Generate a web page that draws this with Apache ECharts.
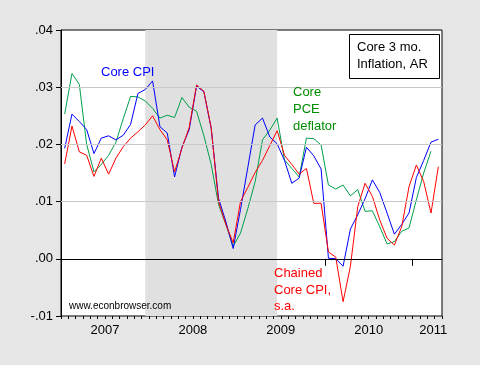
<!DOCTYPE html>
<html>
<head>
<meta charset="utf-8">
<script src="https://cdn.jsdelivr.net/npm/echarts@6/dist/echarts.min.js"></script>
<style>
html,body{margin:0;padding:0;background:#e6e6e6;}
#chart{width:480px;height:365px;}
</style>
</head>
<body>
<div id="chart"></div>
<script>
// Monthly data, Jan 2007 .. Apr 2011 (index 0 = 2007-01)
var startYear = 2007;
var yearLabels = ['2007', '2008', '2009', '2010', '2011'];
var yTicks = [-0.01, 0.00, 0.01, 0.02, 0.03, 0.04];
var recession = [11.5, 29.5]; // Dec 2007 .. Jun 2009 (month index centres)

var coreCPI = [
  0.0193, 0.0253, 0.0240, 0.0226, 0.0184, 0.0211, 0.0215, 0.0208, 0.0216, 0.0235, 0.0289, 0.0296,
  0.0311, 0.0231, 0.0220, 0.0143, 0.0195, 0.0226, 0.0302, 0.0292, 0.0228, 0.0106, 0.0065, 0.0018,
  0.0086, 0.0160, 0.0234, 0.0246, 0.0213, 0.0201, 0.0172, 0.0132, 0.0141, 0.0195, 0.0180, 0.0157,
  0.0001, 0.0000, -0.0013, 0.0052, 0.0077, 0.0105, 0.0138, 0.0116, 0.0080, 0.0043, 0.0060, 0.0080,
  0.0142, 0.0172, 0.0204, 0.0209
];
var chainedCoreCPI = [
  0.0166, 0.0232, 0.0187, 0.0181, 0.0144, 0.0176, 0.0148, 0.0176, 0.0196, 0.0211, 0.0222, 0.0234,
  0.0250, 0.0226, 0.0208, 0.0152, 0.0193, 0.0230, 0.0304, 0.0293, 0.0229, 0.0100, 0.0060, 0.0028,
  0.0100, 0.0125, 0.0151, 0.0172, 0.0198, 0.0224, 0.0181, 0.0165, 0.0148, 0.0158, 0.0097, 0.0097,
  0.0012, 0.0003, -0.0075, -0.0013, 0.0091, 0.0132, 0.0109, 0.0068, 0.0036, 0.0024, 0.0056, 0.0126,
  0.0164, 0.0135, 0.0080, 0.0161
];
var corePCE = [
  0.0253, 0.0324, 0.0305, 0.0200, 0.0152, 0.0165, 0.0181, 0.0204, 0.0245, 0.0284, 0.0283, 0.0276,
  0.0263, 0.0246, 0.0251, 0.0247, 0.0282, 0.0265, 0.0258, 0.0215, 0.0165, 0.0095, 0.0060, 0.0022,
  0.0045, 0.0088, 0.0135, 0.0208, 0.0225, 0.0246, 0.0173, 0.0158, 0.0143, 0.0211, 0.0210, 0.0199,
  0.0129, 0.0122, 0.0129, 0.0110, 0.0121, 0.0083, 0.0084, 0.0056, 0.0026, 0.0030, 0.0048, 0.0054,
  0.0103, 0.0150, 0.0188, null
];

function toXY(arr) {
  var out = [];
  for (var i = 0; i < arr.length; i++) {
    if (arr[i] !== null) out.push([i + 0.5, arr[i]]);
  }
  return out;
}
var nMonths = coreCPI.length;
var yearTickValues = [];
var yearLabelValues = [];
for (var k = 0; k < yearLabels.length; k++) {
  yearTickValues.push(12 * k);
  var mid = Math.min(12 * k + 6, (12 * k + nMonths) / 2 + 0.8);
  yearLabelValues.push(mid);
}

var FONT = "'Liberation Sans', Arial, sans-serif";
var chart = echarts.init(document.getElementById('chart'), null, {renderer: 'canvas'});

var gridLines = yTicks.filter(function (v) { return v > -0.01 && v < 0.04; }).map(function (v) {
  return {yAxis: v, lineStyle: {color: v === 0 ? '#000000' : '#c8c8c8', width: 1, type: 'solid'}};
});

var option = {
  backgroundColor: '#e6e6e6',
  animation: false,
  grid: {
    left: 61, top: 30, width: 381, height: 286,
    show: true, backgroundColor: '#ffffff', borderColor: '#000000', borderWidth: 1
  },
  xAxis: [{
    type: 'value', min: 0, max: nMonths,
    axisLine: {show: true, lineStyle: {color: '#000', width: 1}},
    axisTick: {show: true, customValues: yearTickValues, length: 7, lineStyle: {color: '#000'}},
    axisLabel: {
      show: true, customValues: yearLabelValues, margin: 8,
      color: '#000', fontSize: 13, fontFamily: FONT,
      formatter: function (v) {
        for (var j = 0; j < yearLabelValues.length; j++) {
          if (Math.abs(v - yearLabelValues[j]) < 0.01) return yearLabels[j];
        }
        return '';
      }
    },
    splitLine: {show: false}
  }, {
    type: 'value', min: 0, max: nMonths, interval: 1, position: 'bottom',
    axisLine: {show: false},
    axisTick: {show: true, length: 3, lineStyle: {color: '#000'}},
    axisLabel: {show: false},
    splitLine: {show: false}
  }],
  yAxis: {
    type: 'value', min: -0.01, max: 0.04, interval: 0.01,
    axisLine: {show: true, lineStyle: {color: '#000', width: 1}},
    axisTick: {show: true, length: 5, lineStyle: {color: '#000'}},
    axisLabel: {
      color: '#000', fontSize: 13, fontFamily: FONT, margin: 8,
      formatter: function (v) { return v.toFixed(2).replace('0.', '.'); }
    },
    splitLine: {show: false}
  },
  series: [
    {
      type: 'line', data: [], z: 1, silent: true,
      markArea: {silent: true, itemStyle: {color: '#e0e0e0'},
        data: [[{xAxis: recession[0]}, {xAxis: recession[1]}]]}
    },
    {
      type: 'line', data: [], z: 1.5, silent: true,
      markLine: {silent: true, symbol: 'none', label: {show: false}, data: gridLines}
    },
    {
      name: 'Core PCE deflator', type: 'line', data: toXY(corePCE), z: 2,
      showSymbol: false, lineStyle: {color: '#00a04a', width: 1}, itemStyle: {color: '#00a04a'}
    },
    {
      name: 'Core CPI', type: 'line', data: toXY(coreCPI), z: 3,
      showSymbol: false, lineStyle: {color: '#0000ff', width: 1}, itemStyle: {color: '#0000ff'}
    },
    {
      name: 'Chained Core CPI, s.a.', type: 'line', data: toXY(chainedCoreCPI), z: 4,
      showSymbol: false, lineStyle: {color: '#ff0000', width: 1}, itemStyle: {color: '#ff0000'}
    }
  ],
  graphic: [
    {type: 'rect', z: 100, shape: {x: 349.5, y: 34.5, width: 90, height: 44},
      style: {fill: '#ffffff', stroke: '#000000', lineWidth: 1}},
    {type: 'text', z: 101, x: 357, y: 47.5, style: {text: 'Core 3 mo.', fill: '#000', font: '13px ' + FONT, verticalAlign: 'middle'}},
    {type: 'text', z: 101, x: 357, y: 64.5, style: {text: 'Inflation, AR', fill: '#000', font: '13px ' + FONT, verticalAlign: 'middle'}},
    {type: 'text', z: 101, x: 101, y: 72, style: {text: 'Core CPI', fill: '#0000ff', font: '13px ' + FONT, verticalAlign: 'middle'}},
    {type: 'text', z: 101, x: 293, y: 92, style: {text: 'Core', fill: '#008c00', font: '13px ' + FONT, verticalAlign: 'middle'}},
    {type: 'text', z: 101, x: 293, y: 109, style: {text: 'PCE', fill: '#008c00', font: '13px ' + FONT, verticalAlign: 'middle'}},
    {type: 'text', z: 101, x: 293, y: 126.5, style: {text: 'deflator', fill: '#008c00', font: '13px ' + FONT, verticalAlign: 'middle'}},
    {type: 'text', z: 101, x: 274, y: 273.5, style: {text: 'Chained', fill: '#ff0000', font: '13px ' + FONT, verticalAlign: 'middle'}},
    {type: 'text', z: 101, x: 274, y: 290.5, style: {text: 'Core CPI,', fill: '#ff0000', font: '13px ' + FONT, verticalAlign: 'middle'}},
    {type: 'text', z: 101, x: 274, y: 306, style: {text: 's.a.', fill: '#ff0000', font: '13px ' + FONT, verticalAlign: 'middle'}},
    {type: 'text', z: 101, x: 69, y: 306, style: {text: 'www.econbrowser.com', fill: '#000', font: '10px ' + FONT, verticalAlign: 'middle'}}
  ]
};
chart.setOption(option);
</script>
</body>
</html>
